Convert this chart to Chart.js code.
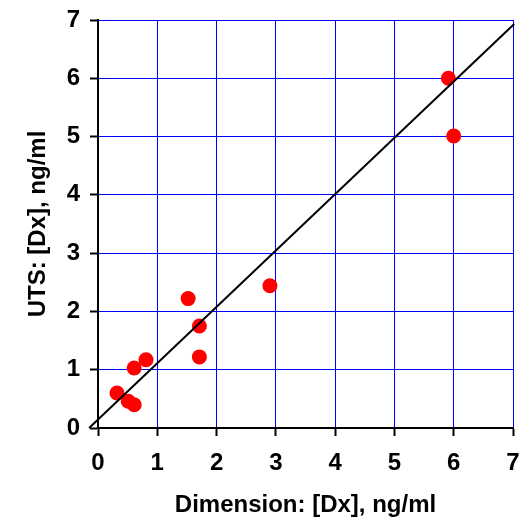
<!DOCTYPE html>
<html>
<head>
<meta charset="utf-8">
<script src="https://cdn.jsdelivr.net/npm/chart.js@4/dist/chart.umd.min.js"></script>
<style>
  html, body { margin: 0; padding: 0; background: #fff; }
  #wrap { width: 524px; height: 518px; }
</style>
</head>
<body>
<div id="wrap"><canvas id="c" width="524" height="518"></canvas></div>
<script>
const dimensionValues = [0.32, 0.51, 0.61, 0.61, 0.81, 1.52, 1.71, 1.71, 2.90, 5.91, 6.00];
const utsValues       = [0.60, 0.46, 0.40, 1.03, 1.17, 2.22, 1.75, 1.22, 2.44, 6.00, 5.01];
const fitLineX = [-0.15, 7.02];
const fitLineY = [0.00, 6.93];
const tickValues = [0, 1, 2, 3, 4, 5, 6, 7];
const xTitle = 'Dimension: [Dx], ng/ml';
const yTitle = 'UTS: [Dx], ng/ml';

const points = dimensionValues.map((x, i) => ({ x: x, y: utsValues[i] }));
const fit = fitLineX.map((x, i) => ({ x: x, y: fitLineY[i] }));

const FONT = "Arial, 'Liberation Sans', sans-serif";

const axisCommon = {
  type: 'linear',
  min: tickValues[0],
  max: tickValues[tickValues.length - 1],
  afterBuildTicks: s => { s.ticks = tickValues.map(v => ({ value: v })); },
  grid: {
    color: '#0000ff',
    lineWidth: 1,
    tickColor: '#000000',
    tickLength: 8,
    tickWidth: 2
  },
  border: { color: '#000000', width: 2 }
};

new Chart(document.getElementById('c'), {
  type: 'scatter',
  data: {
    datasets: [
      {
        type: 'line',
        data: fit,
        borderColor: '#000000',
        borderWidth: 2,
        pointRadius: 0,
        fill: false,
        clip: false
      },
      {
        data: points,
        backgroundColor: '#ff0000',
        borderWidth: 0,
        pointRadius: 7.5,
        pointHoverRadius: 7.5
      }
    ]
  },
  options: {
    responsive: false,
    animation: false,
    events: [],
    layout: { padding: { top: 20, right: 11, left: 0, bottom: 0 } },
    plugins: { legend: { display: false }, tooltip: { enabled: false } },
    scales: {
      x: Object.assign({}, axisCommon, {
        position: 'bottom',
        afterFit: s => { s.height = 90; s.paddingLeft = 0; s.paddingRight = 0; },
        ticks: {
          color: '#000000',
          font: { family: FONT, size: 24, weight: 'bold', lineHeight: 1.2 },
          padding: 13,
          maxRotation: 0,
          autoSkip: false
        },
        title: {
          display: true,
          text: xTitle,
          color: '#000000',
          font: { family: FONT, size: 24, weight: 'bold', lineHeight: 1 },
          padding: { top: 0, bottom: 1 }
        }
      }),
      y: Object.assign({}, axisCommon, {
        position: 'left',
        afterFit: s => { s.width = 98; s.paddingTop = 0; s.paddingBottom = 0; },
        ticks: {
          color: '#000000',
          font: { family: FONT, size: 24, weight: 'bold', lineHeight: 1.2 },
          padding: 10,
          autoSkip: false
        },
        title: {
          display: true,
          text: yTitle,
          color: '#000000',
          font: { family: FONT, size: 24, weight: 'bold', lineHeight: 1 },
          padding: { top: 26, bottom: 0 }
        }
      })
    }
  }
});
</script>
</body>
</html>
